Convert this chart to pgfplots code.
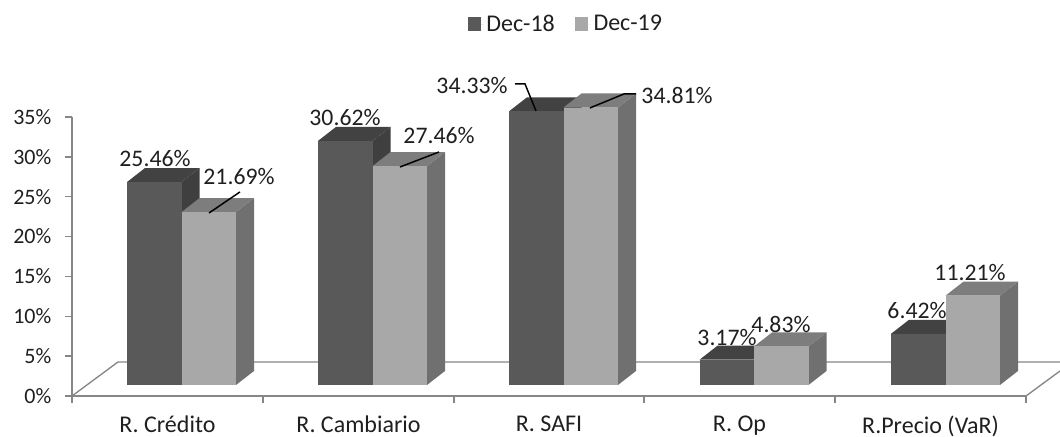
\documentclass[border=0pt]{standalone}
\usepackage{fontspec}
\setmainfont{Carlito}
\usepackage{pgfplots}
\pgfplotsset{compat=1.18}

\definecolor{axisgray}{HTML}{868686}
\definecolor{txt}{HTML}{1F1F1F}
\definecolor{darkfront}{HTML}{595959}
\definecolor{darkside}{HTML}{3F3F3F}
\definecolor{darktop}{HTML}{424242}
\definecolor{lightfront}{HTML}{A8A8A8}
\definecolor{lightside}{HTML}{707070}
\definecolor{lighttop}{HTML}{7D7D7D}

% x is in picture pixels, y in percent; the bars stand on a floor at 1.38
% #1 left edge, #2 value, #3 front, #4 side, #5 top
\newcommand{\barthree}[5]{%
  \pgfmathsetmacro\xa{#1}%
  \pgfmathsetmacro\xb{#1+54.5}%
  \pgfmathsetmacro\xc{#1+72.5}%
  \pgfmathsetmacro\xd{#1+18}%
  \pgfmathsetmacro\ya{1.38}%
  \pgfmathsetmacro\yb{1.38+#2}%
  \pgfmathsetmacro\yc{1.38+#2+1.76}%
  \pgfmathsetmacro\yd{1.38+1.76}%
  \edef\temp{%
    \noexpand\addplot[fill=#4,draw=none,forget plot] coordinates {(\xb,\ya)(\xc,\yd)(\xc,\yc)(\xb,\yb)} --cycle;
    \noexpand\addplot[fill=#5,draw=none,forget plot] coordinates {(\xa,\yb)(\xb,\yb)(\xc,\yc)(\xd,\yc)} --cycle;
    \noexpand\addplot[fill=#3,draw=none,forget plot] coordinates {(\xa,\ya)(\xb,\ya)(\xb,\yb)(\xa,\yb)} --cycle;
  }\temp
}
\newcommand{\darkbar}[2]{\barthree{#1}{#2}{darkfront}{darkside}{darktop}}
\newcommand{\lightbar}[2]{\barthree{#1}{#2}{lightfront}{lightside}{lighttop}}

\begin{document}
\begin{tikzpicture}
\path[use as bounding box] (-54pt,-30pt) rectangle (741pt,297pt);
\begin{axis}[
  scale only axis,
  width=715.5pt, height=209.25pt,
  xmin=72, xmax=1026,
  ymin=0, ymax=35,
  clip=false,
  axis lines=left,
  axis line style={-,draw=axisgray,line width=1pt},
  tick style={draw=axisgray,line width=1pt},
  tick align=outside,
  major tick length=5pt,
  xtick={72,263,454,644,835,1026},
  x tick label as interval,
  xticklabels={R. Crédito,R. Cambiario,R. SAFI,R. Op,R.Precio (VaR)},
  ytick={0,5,...,35},
  yticklabel={\pgfmathprintnumber{\tick}\%},
  /pgf/number format/assume math mode=true,
  xticklabel style={font=\fontsize{18}{21}\selectfont,text=txt,inner sep=0pt,yshift=-10pt},
  yticklabel style={font=\fontsize{16.5}{19}\selectfont,text=txt,xshift=-7pt},
  legend columns=2,
  legend style={draw=none,fill=none,at={(0.518,1.333)},anchor=center,
    font=\fontsize{18}{21}\selectfont,text=txt,
    /tikz/every even column/.append style={column sep=13pt}},
  legend image code/.code={\fill[#1] (0pt,-5pt) rectangle (10pt,5pt);\path (0pt,0pt) -- (12pt,0pt);},
]
\addlegendimage{fill=darkfront,draw=none}
\addlegendentry{Dec-18}
\addlegendimage{fill=lightfront,draw=none}
\addlegendentry{Dec-19}

% floor
\addplot[draw=axisgray,line width=1pt,forget plot] coordinates {(72,0)(118,4.27)(1060,4.27)};
\addplot[draw=axisgray,line width=1pt,forget plot] coordinates {(1026,0)(1060,3.14)};

% Dec-18 / Dec-19
\darkbar{127}{25.46} \lightbar{181.5}{21.69}
\darkbar{318}{30.62} \lightbar{372.5}{27.46}
\darkbar{509}{34.33} \lightbar{563.5}{34.81}
\darkbar{699.5}{3.17} \lightbar{754}{4.83}
\darkbar{891}{6.42} \lightbar{945.5}{11.21}

% leader lines
\addplot[black,line width=1.1pt,forget plot] coordinates {(209,22.96)(240,25.60)};
\addplot[black,line width=1.1pt,forget plot] coordinates {(400,28.73)(439,30.61)};
\addplot[black,line width=1.1pt,forget plot] coordinates {(536,35.76)(525,39.15)(515,39.15)};
\addplot[black,line width=1.1pt,forget plot] coordinates {(590,36.14)(624,37.89)(636,37.89)};

% data labels
\begin{scope}[every node/.style={font=\fontsize{17.8}{20}\selectfont,text=txt,inner sep=0pt}]
\node at (axis cs:155,29.74) {25.46\%};
\node at (axis cs:239,27.48) {21.69\%};
\node at (axis cs:345,34.88) {30.62\%};
\node at (axis cs:439,32.62) {27.46\%};
\node at (axis cs:472,38.90) {34.33\%};
\node at (axis cs:677,37.64) {34.81\%};
\node at (axis cs:727,7.40) {3.17\%};
\node at (axis cs:781,9.03) {4.83\%};
\node at (axis cs:917,10.67) {6.42\%};
\node at (axis cs:970,15.43) {11.21\%};
\end{scope}
\end{axis}
\end{tikzpicture}
\end{document}
